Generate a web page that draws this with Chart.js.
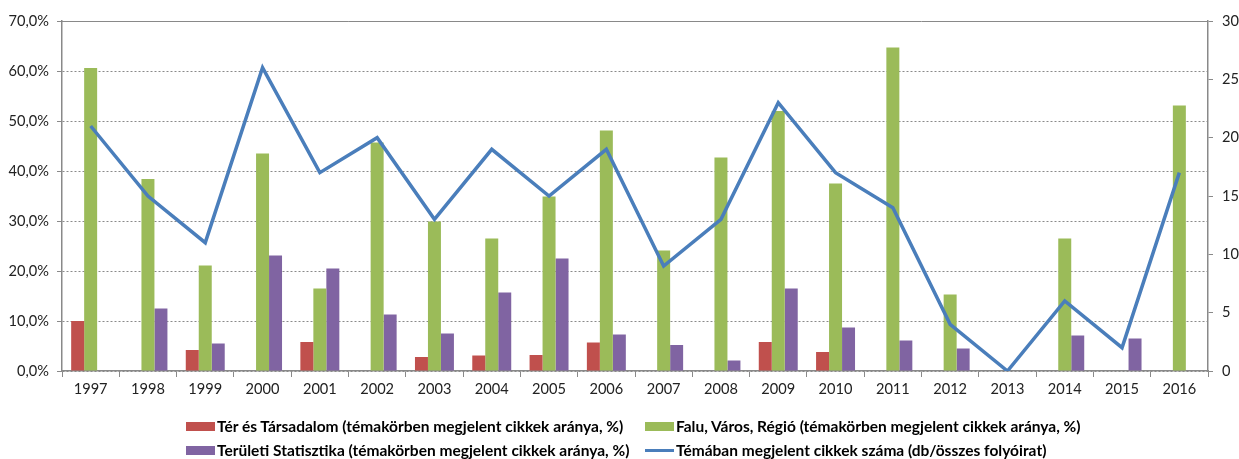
<!DOCTYPE html>
<html>
<head>
<meta charset="utf-8">
<script src="https://cdn.jsdelivr.net/npm/chart.js@4/dist/chart.umd.min.js"></script>
<style>
  body { margin: 0; background: #fff; }
  #wrap { position: relative; width: 1239px; height: 459px; }
  #chartBox { position: absolute; left: 0; top: 0; width: 1239px; height: 400px; }
  #legend { position: absolute; left: 0; top: 0; width: 1239px; height: 459px; pointer-events: none;
            font-family: Lato, "Open Sans", sans-serif; font-weight: bold; font-size: 15.5px; color: #000; }
  .item { position: absolute; display: flex; align-items: center; white-space: nowrap; }
  .box { width: 29px; height: 9px; margin-right: 2px; }
  .lineBox { width: 29px; height: 3px; margin-right: 2px; }
</style>
</head>
<body>
<div id="wrap">
  <div id="chartBox"><canvas id="chart"></canvas></div>
  <div id="legend"></div>
</div>
<script>
document.addEventListener('DOMContentLoaded', () => {

    const years = ['1997', '1998', '1999', '2000', '2001', '2002', '2003', '2004', '2005', '2006',
                   '2007', '2008', '2009', '2010', '2011', '2012', '2013', '2014', '2015', '2016'];

    // share of articles per journal (%)
    const terTarsadalom = [10.0, null, 4.2, null, 5.8, null, 2.8, 3.1, 3.2, 5.7,
                           null, null, 5.8, 3.8, null, null, null, null, null, null];
    const faluVarosRegio = [60.6, 38.4, 21.1, 43.5, 16.5, 45.7, 29.9, 26.5, 34.9, 48.1,
                            24.1, 42.7, 52.0, 37.5, 64.7, 15.3, null, 26.5, null, 53.1];
    const teruletiStat = [null, 12.5, 5.5, 23.1, 20.5, 11.3, 7.5, 15.7, 22.5, 7.3,
                          5.2, 2.1, 16.5, 8.7, 6.1, 4.5, null, 7.1, 6.5, null];

    // number of articles (right axis)
    const cikkekSzama = [21, 15, 11, 26, 17, 20, 13, 19, 15, 19, 9, 13, 23, 17, 14, 4, 0, 6, 2, 17];

    const labels = [
        'Tér és Társadalom (témakörben megjelent cikkek aránya, %)',
        'Falu, Város, Régió (témakörben megjelent cikkek aránya, %)',
        'Területi Statisztika (témakörben megjelent cikkek aránya, %)',
        'Témában megjelent cikkek száma (db/összes folyóirat)'
    ];
    const colors = ['#C0504D', '#9BBB59', '#8064A2', '#4A7EBB'];

    const tickFont = { family: 'Lato, "Open Sans", sans-serif', size: 14.6 };
    const axisGrey = '#898989';

    const topBorder = {
        id: 'topBorder',
        afterDatasetsDraw(chart) {
            const { ctx, chartArea } = chart;
            ctx.save();
            ctx.strokeStyle = axisGrey;
            ctx.lineWidth = 1;
            ctx.beginPath();
            ctx.moveTo(chartArea.left, chartArea.top + 0.5);
            ctx.lineTo(chartArea.right, chartArea.top + 0.5);
            ctx.stroke();
            ctx.restore();
        }
    };

    const ctx = document.getElementById('chart').getContext('2d');
    new Chart(ctx, {
        data: {
            labels: years,
            datasets: [
                { type: 'line', label: labels[3], data: cikkekSzama, yAxisID: 'y1', borderColor: colors[3],
                  borderWidth: 3.5, pointRadius: 0, tension: 0, order: 0 },
                { type: 'bar', label: labels[0], data: terTarsadalom, backgroundColor: colors[0], yAxisID: 'y', order: 1 },
                { type: 'bar', label: labels[1], data: faluVarosRegio, backgroundColor: colors[1], yAxisID: 'y', order: 1 },
                { type: 'bar', label: labels[2], data: teruletiStat, backgroundColor: colors[2], yAxisID: 'y', order: 1 }
            ]
        },
        options: {
            responsive: true,
            maintainAspectRatio: false,
            animation: false,
            layout: { padding: { top: 21, bottom: 0, left: 0, right: 0 } },
            datasets: { bar: { categoryPercentage: 0.68, barPercentage: 1.0 } },
            plugins: { legend: { display: false }, tooltip: { enabled: false } },
            scales: {
                x: {
                    offset: true,
                    grid: { offset: true, drawOnChartArea: false, tickLength: 6, color: axisGrey },
                    border: { color: axisGrey, width: 1.5 },
                    ticks: { font: tickFont, color: '#222', padding: 4, maxRotation: 0, autoSkip: false },
                    afterFit(s) { s.height = 29; }
                },
                y: {
                    position: 'left',
                    min: 0, max: 70,
                    grid: { color: '#8a8a8a', tickLength: 5, tickColor: axisGrey },
                    border: { color: axisGrey, width: 1.5, dash: [2, 2] },
                    ticks: { stepSize: 10, font: tickFont, color: '#222', padding: 8,
                             callback: v => v.toFixed(1).replace('.', ',') + '%' },
                    afterFit(s) { s.width = 62; }
                },
                y1: {
                    position: 'right',
                    min: 0, max: 30,
                    grid: { drawOnChartArea: false, tickLength: 5, color: axisGrey },
                    border: { color: axisGrey, width: 1.5 },
                    ticks: { stepSize: 5, font: tickFont, color: '#222', padding: 9 },
                    afterFit(s) { s.width = 31; }
                }
            }
        },
        plugins: [topBorder]
    });

    // legend: two items per row, like the original
    const legend = document.getElementById('legend');
    const spots = [[186, 426], [645, 426], [186, 450], [645, 450]];
    labels.forEach((txt, i) => {
        const item = document.createElement('div');
        item.className = 'item';
        item.style.left = spots[i][0] + 'px';
        item.style.top = (spots[i][1] - 10) + 'px';
        item.style.height = '20px';
        const mark = document.createElement('span');
        mark.className = i === 3 ? 'lineBox' : 'box';
        mark.style.background = colors[i];
        const span = document.createElement('span');
        span.textContent = txt;
        item.appendChild(mark);
        item.appendChild(span);
        legend.appendChild(item);
    });

});
</script>
</body>
</html>
